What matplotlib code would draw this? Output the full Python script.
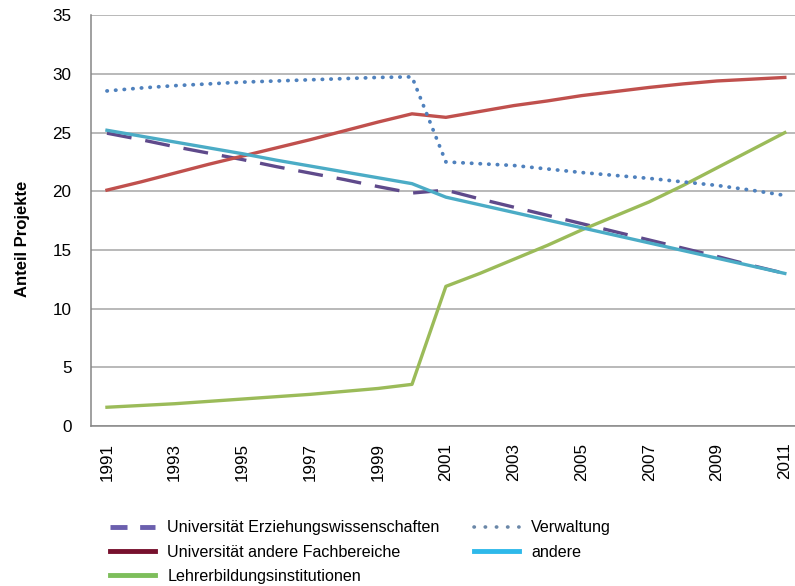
import matplotlib
matplotlib.use('Agg')
import matplotlib.pyplot as plt
from matplotlib.lines import Line2D

plt.rcParams['font.family'] = ['Liberation Sans', 'DejaVu Sans']

years = list(range(1991, 2012))

# Anteil Projekte je Institution
uni_erz = [24.95, 24.4, 23.8, 23.25, 22.7, 22.1, 21.55, 21.0, 20.4, 19.85,
           20.1, 19.35, 18.65, 17.95, 17.25, 16.55, 15.85, 15.15, 14.45, 13.7, 13.0]
uni_andere = [20.1, 20.8, 21.55, 22.3, 23.0, 23.7, 24.4, 25.15, 25.9, 26.6,
              26.3, 26.8, 27.3, 27.7, 28.15, 28.5, 28.85, 29.15, 29.4, 29.55, 29.7]
lehrer = [1.6, 1.75, 1.9, 2.1, 2.3, 2.5, 2.7, 2.95, 3.2, 3.55,
          11.9, 13.0, 14.2, 15.4, 16.7, 17.9, 19.1, 20.5, 22.0, 23.5, 25.0]
verwaltung = [28.55, 28.8, 29.0, 29.15, 29.3, 29.4, 29.5, 29.6, 29.7, 29.75,
              22.5, 22.35, 22.2, 21.9, 21.6, 21.35, 21.1, 20.8, 20.5, 20.1, 19.65]
andere = [25.2, 24.7, 24.2, 23.7, 23.2, 22.65, 22.15, 21.65, 21.15, 20.65,
          19.5, 18.85, 18.2, 17.55, 16.9, 16.25, 15.6, 14.95, 14.3, 13.65, 13.0]

labels = ['Universität Erziehungswissenschaften', 'Universität andere Fachbereiche',
          'Lehrerbildungsinstitutionen', 'Verwaltung', 'andere']

fig = plt.figure(figsize=(7.95, 5.86), dpi=100)
ax = fig.add_axes([0.1145, 0.273, 0.8855, 0.701])

lw = 2.4
ax.plot(years, uni_erz, color='#5F4A8B', lw=lw, linestyle=(0, (7.5, 4.2)))
ax.plot(years, uni_andere, color='#C0504D', lw=lw)
ax.plot(years, lehrer, color='#9BBB59', lw=lw)
ax.plot(years, verwaltung, color='#4F81BD', lw=2.7, linestyle=(0, (0.1, 2.2)),
        dash_capstyle='round')
ax.plot(years, andere, color='#4BACC6', lw=lw)

ax.set_xlim(1990.53, 2011.3)
ax.set_ylim(0, 35)
ax.set_yticks(range(0, 36, 5))
ax.set_xticks(years[::2])
ax.set_xticklabels([str(y) for y in years[::2]], rotation=90)
ax.tick_params(axis='both', length=0, labelsize=12.3, colors='black')
ax.tick_params(axis='y', pad=14)
ax.tick_params(axis='x', pad=12)
ax.yaxis.grid(True, color='#A6A6A6', lw=1.1)
ax.set_axisbelow(True)
for s in ['top', 'right']:
    ax.spines[s].set_visible(False)
for s in ['left', 'bottom']:
    ax.spines[s].set_color('#868686')
    ax.spines[s].set_linewidth(1.1)

ax.set_ylabel('Anteil Projekte', fontsize=12, fontweight='bold')
ax.yaxis.set_label_coords(-0.086, 0.455)

# legend colours differ slightly from the plotted lines in the original
handles = [
    Line2D([], [], color='#6B5FAE', lw=3.5, linestyle=(0, (3.5, 2.6))),
    Line2D([], [], color='#77102D', lw=3.5),
    Line2D([], [], color='#7DBE5B', lw=3.5),
    Line2D([], [], color='#6A87A8', lw=2.6, linestyle=(0, (0.1, 3.0)), dash_capstyle='round'),
    Line2D([], [], color='#2EB9EA', lw=3.5),
]
fig.legend(handles, labels, ncol=2, loc='upper left', bbox_to_anchor=(0.138, 0.112),
           frameon=False, fontsize=11.65, handlelength=2.8, handletextpad=0.75,
           columnspacing=2.1, labelspacing=0.57, borderaxespad=0, borderpad=0)

fig.savefig('out.png', dpi=100)
